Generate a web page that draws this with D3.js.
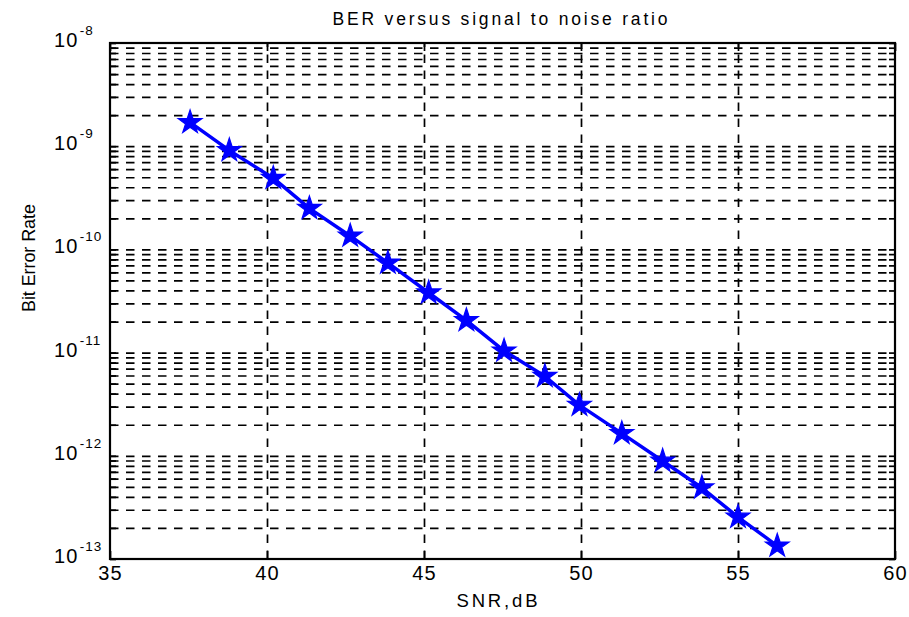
<!DOCTYPE html>
<html>
<head>
<meta charset="utf-8">
<title>BER versus SNR</title>
<script src="https://d3js.org/d3.v7.min.js"></script>
<style>
  body { margin: 0; background: #fff; }
  svg text { font-family: "Liberation Sans", Arial, sans-serif; fill: #000; }
  .grid line { stroke: #000; stroke-width: 1.7px; stroke-dasharray: 8.5, 7.5; }
  .grid path { display: none; }
  .ticks path { display: none; }
  .ticks line { stroke: #000; stroke-width: 1.7px; }
</style>
</head>
<body>
<script>
// data
var snr = [37.55, 38.8, 40.2, 41.35, 42.65, 43.85, 45.15, 46.35, 47.55, 48.85, 49.95, 51.3, 52.6, 53.85, 55.0, 56.25];
var ber = [1.7e-9, 9.1e-10, 4.9e-10, 2.5e-10, 1.35e-10, 7.4e-11, 3.8e-11, 2.05e-11, 1.04e-11, 5.9e-12, 3.1e-12, 1.65e-12, 8.9e-13, 4.9e-13, 2.55e-13, 1.34e-13];

var xTicks = [35, 40, 45, 50, 55, 60];
var yExponents = [-13, -12, -11, -10, -9, -8];
var titleText = "BER versus signal to noise ratio";
var xLabel = "SNR,dB";
var yLabel = "Bit Error Rate";

// layout
var margin = {top: 43, right: 14, bottom: 58, left: 110},
    width = 909 - margin.left - margin.right,
    height = 617 - margin.top - margin.bottom;

var x = d3.scaleLinear().domain([35, 60]).range([0, width]);
var y = d3.scaleLog().domain([1e-13, 1e-8]).range([height, 0]);

// major + minor log ticks
var yMajor = yExponents.map(function(e) { return Math.pow(10, e); });
var yAll = [];
yExponents.slice(0, -1).forEach(function(e) {
  for (var m = 1; m <= 9; m++) yAll.push(m * Math.pow(10, e));
});
yAll.push(1e-8);

var svg = d3.select("body").append("svg")
    .attr("width", 909)
    .attr("height", 617);

var g = svg.append("g")
    .attr("transform", "translate(" + margin.left + "," + margin.top + ")");

// horizontal gridlines (all decades and minors)
g.append("g")
    .attr("class", "grid")
    .call(d3.axisLeft(y).tickValues(yAll.filter(function(v) { return v > 1.01e-13 && v < 0.99e-8; }))
        .tickSize(-width).tickFormat(""));

// vertical gridlines
g.append("g")
    .attr("class", "grid")
    .attr("transform", "translate(0," + height + ")")
    .call(d3.axisBottom(x).tickValues(xTicks.slice(1, -1)).tickSize(-height).tickFormat(""));

// tick marks pointing inward on all four sides
g.append("g").attr("class", "ticks")
    .call(d3.axisLeft(y).tickValues(yAll).tickSize(-6).tickFormat(""));
g.append("g").attr("class", "ticks")
    .attr("transform", "translate(" + width + ",0)")
    .call(d3.axisRight(y).tickValues(yAll).tickSize(-6).tickFormat(""));
g.append("g").attr("class", "ticks")
    .call(d3.axisTop(x).tickValues(xTicks).tickSize(-8).tickFormat(""));

var xAxis = g.append("g").attr("class", "ticks")
    .attr("transform", "translate(0," + height + ")")
    .call(d3.axisBottom(x).tickValues(xTicks).tickSize(-8).tickPadding(7).tickFormat(d3.format("d")));
xAxis.selectAll("text")
    .style("font-size", "20px")
    .style("letter-spacing", "1.2px");

// y tick labels as 10 with superscript exponent
var yLab = svg.append("g").selectAll("text")
    .data(yMajor)
    .enter().append("text")
    .attr("x", 54)
    .attr("y", function(d) { return margin.top + y(d) + 4; })
    .style("font-size", "20px");
yLab.append("tspan")
    .style("letter-spacing", "1.2px")
    .text("10");
yLab.append("tspan")
    .attr("dy", -12)
    .attr("dx", 1)
    .style("font-size", "13.5px")
    .style("letter-spacing", "1px")
    .text(function(d) { return String(Math.round(Math.log10(d))); });

// data line + pentagram markers
var line = d3.line()
    .x(function(d, i) { return x(snr[i]); })
    .y(function(d) { return y(d); });

g.append("path")
    .datum(ber)
    .attr("fill", "none")
    .attr("stroke", "#0000ff")
    .attr("stroke-width", 3.5)
    .attr("stroke-linejoin", "round")
    .attr("d", line);

g.selectAll(".star")
    .data(ber)
    .enter().append("path")
    .attr("class", "star")
    .attr("transform", function(d, i) { return "translate(" + x(snr[i]) + "," + y(d) + ")"; })
    .attr("d", d3.symbol().type(d3.symbolStar).size(175))
    .attr("fill", "#0000ff")
    .attr("stroke", "#0000ff")
    .attr("stroke-width", 1.2);

// axes box
g.append("rect")
    .attr("width", width)
    .attr("height", height)
    .attr("fill", "none")
    .attr("stroke", "#000")
    .attr("stroke-width", 2.2);

// title and labels
svg.append("text")
    .attr("x", 500)
    .attr("y", 25)
    .attr("text-anchor", "middle")
    .attr("textLength", 335)
    .attr("lengthAdjust", "spacing")
    .style("font-size", "17.5px")
    .text(titleText);

svg.append("text")
    .attr("x", 497)
    .attr("y", 607)
    .attr("text-anchor", "middle")
    .attr("textLength", 81)
    .attr("lengthAdjust", "spacing")
    .style("font-size", "18.5px")
    .text(xLabel);

svg.append("text")
    .attr("transform", "translate(35,258) rotate(-90)")
    .attr("text-anchor", "middle")
    .attr("textLength", 108)
    .attr("lengthAdjust", "spacing")
    .style("font-size", "18px")
    .text(yLabel);
</script>
</body>
</html>
